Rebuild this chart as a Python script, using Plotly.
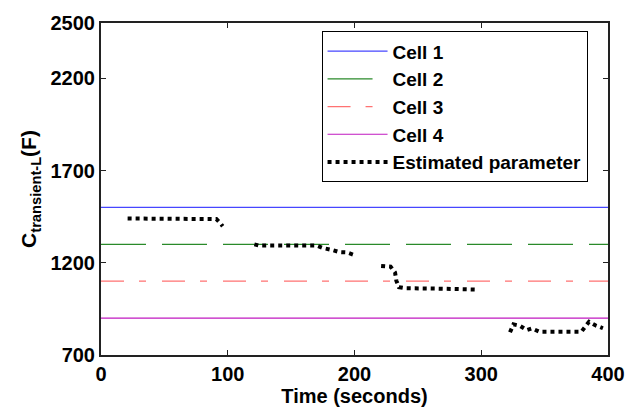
import plotly.graph_objects as go

# Reference constant levels for each cell (F)
cell_names = ["Cell 1", "Cell 2", "Cell 3", "Cell 4"]
cell_values = [1500, 1300, 1100, 900]
time_range = [0, 400]

# Estimated parameter (segments separated by None)
est_time = [21, 84, 91, 94, 96, None,
            121, 125, 170, 175, 182, 188, 194, 199, None,
            221, 228.5, 232, 233, 235, 240, 265, 296, None,
            322.7, 325.4, 330.6, 336, 340, 346, 379, 382, 385, 390, 396]
est_value = [1440, 1440, 1437, 1416, 1398, None,
             1300, 1293, 1293, 1280, 1270, 1258, 1256, 1244, None,
             1183, 1179, 1147, 1103, 1068, 1062, 1060, 1055, None,
             823, 866, 858, 835, 844, 826, 826, 853, 880, 861, 845]

x_ticks = [0, 100, 200, 300, 400]
y_ticks = [700, 1200, 1700, 2200, 2500]

colors = ["#4646ff", "#2a8a2a", "#ff7272", "#c018c0"]
dashes = ["solid", "45px,16px", "23px,15px,7px,16px", "solid"]

fig = go.Figure()
for name, v, c, d in zip(cell_names, cell_values, colors, dashes):
    fig.add_trace(go.Scatter(x=time_range, y=[v, v], mode="lines", name=name,
                             line=dict(color=c, width=1.2, dash=d)))
fig.add_trace(go.Scatter(x=est_time, y=est_value, mode="lines", name="Estimated parameter",
                         connectgaps=False,
                         line=dict(color="black", width=4, dash="4px,4px")))

axis_common = dict(showline=True, linecolor="#222", linewidth=2, mirror="ticks",
                   ticks="inside", ticklen=5, tickcolor="#222", showgrid=False,
                   zeroline=False, tickfont=dict(size=20, color="black"))

fig.update_layout(
    width=637, height=414,
    margin=dict(l=101, r=29, t=13, b=59),
    paper_bgcolor="white", plot_bgcolor="white",
    font=dict(family="Liberation Sans, Arial", color="black", weight="bold"),
    xaxis=dict(range=[0, 400], tickvals=x_ticks, ticktext=[str(t) for t in x_ticks],
               title=dict(text="Time (seconds)", font=dict(size=20), standoff=2),
               **axis_common),
    yaxis=dict(range=[700, 2500], tickvals=y_ticks, ticktext=[str(t) for t in y_ticks],
               title=dict(text="C<sub>transient-L</sub>(F)", font=dict(size=21), standoff=8),
               **axis_common),
    legend=dict(x=0.435, y=0.975, xanchor="left", yanchor="top",
                bgcolor="white", bordercolor="black", borderwidth=1,
                font=dict(size=19), itemwidth=60, tracegroupgap=0),
    showlegend=True,
)

fig.write_html("out.html")
